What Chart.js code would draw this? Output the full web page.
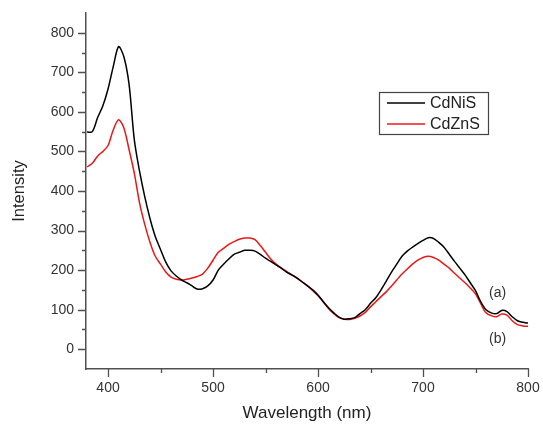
<!DOCTYPE html>
<html>
<head>
<meta charset="utf-8">
<script src="https://cdn.jsdelivr.net/npm/chart.js@4/dist/chart.umd.min.js"></script>
<style>
html,body{margin:0;padding:0;background:#fff;}
#wrap{width:543px;height:427px;position:relative;}
</style>
</head>
<body>
<div id="wrap"><canvas id="c" width="543" height="427"></canvas></div>
<script>
const wavelengths = [];
for (let w = 380; w <= 800; w += 5) wavelengths.push(w);

const cdnis = [549,550,585,615,658,715,765,740,670,530,450,385,330,285,252,220,198,185,175,168,160,152,153,160,175,200,215,228,240,245,250,250,248,240,230,222,213,205,195,188,180,170,160,150,137,120,105,92,81,76,77,80,90,100,116,130,150,172,195,215,235,248,258,267,275,282,280,270,258,240,222,205,188,168,148,120,100,92,90,98,95,82,72,68,66];
const cdzns = [461,470,488,500,515,555,580,560,505,445,370,315,270,235,215,195,182,177,175,177,180,184,190,205,225,245,255,265,272,278,281,281,277,262,245,228,215,205,197,188,180,170,160,148,135,120,103,90,80,76,75,78,84,93,107,120,133,145,160,175,190,203,215,225,232,235,232,225,215,205,192,180,168,155,140,115,92,85,82,89,86,72,62,59,58];

const seriesNames = ['CdNiS', 'CdZnS'];
const xTicks = [400, 500, 600, 700, 800];
const xMinorTicks = [450, 550, 650, 750];
const yTicks = [0, 100, 200, 300, 400, 500, 600, 700, 800];
const yMinorTicks = [50, 150, 250, 350, 450, 550, 650, 750];
const notes = [{text:'(a)', x:771, y:142}, {text:'(b)', x:771, y:25}];

const FONT = "'Liberation Sans', Arial, sans-serif";
const AXIS = '#505050';
const TXT = '#333333';
const RED = 'rgb(232,24,24)';

const tickPlugin = {
  id: 'ticksAndExtras',
  afterDraw(chart) {
    const ctx = chart.ctx;
    const xs = chart.scales.x, ys = chart.scales.y;
    const ca = chart.chartArea;
    ctx.save();
    ctx.strokeStyle = AXIS;
    ctx.lineWidth = 1.3;
    ctx.beginPath();
    xTicks.forEach(v => { const p = Math.round(xs.getPixelForValue(v)) + 0.5; ctx.moveTo(p, ca.bottom); ctx.lineTo(p, ca.bottom + 8); });
    xMinorTicks.forEach(v => { const p = Math.round(xs.getPixelForValue(v)) + 0.5; ctx.moveTo(p, ca.bottom); ctx.lineTo(p, ca.bottom + 4); });
    yTicks.forEach(v => { const p = Math.round(ys.getPixelForValue(v)) + 0.5; ctx.moveTo(ca.left, p); ctx.lineTo(ca.left - 8, p); });
    yMinorTicks.forEach(v => { const p = Math.round(ys.getPixelForValue(v)) + 0.5; ctx.moveTo(ca.left, p); ctx.lineTo(ca.left - 4, p); });
    ctx.stroke();

    // legend box
    const lx = 379, ly = 92, lw = 109, lh = 42;
    ctx.strokeStyle = '#444';
    ctx.lineWidth = 1.2;
    ctx.strokeRect(lx + 0.5, ly + 0.5, lw, lh);
    ctx.font = '16px ' + FONT;
    ctx.textBaseline = 'middle';
    ctx.textAlign = 'left';
    chart.data.datasets.forEach((ds, i) => {
      const yy = ly + 11 + i * 21;
      ctx.strokeStyle = ds.borderColor;
      ctx.lineWidth = 1.3;
      ctx.beginPath();
      ctx.moveTo(387, yy); ctx.lineTo(425, yy);
      ctx.stroke();
      ctx.fillStyle = '#222';
      ctx.fillText(ds.label, 430, yy + 1);
    });

    // annotations
    ctx.font = '14px ' + FONT;
    ctx.textAlign = 'center';
    ctx.fillStyle = TXT;
    notes.forEach(n => ctx.fillText(n.text, xs.getPixelForValue(n.x), ys.getPixelForValue(n.y)));
    ctx.restore();
  }
};

new Chart(document.getElementById('c'), {
  type: 'line',
  data: {
    datasets: [
      { label: seriesNames[0], data: wavelengths.map((w, i) => ({x: w, y: cdnis[i]})), borderColor: '#000000', borderWidth: 1.5, pointRadius: 0, tension: 0.3, fill: false },
      { label: seriesNames[1], data: wavelengths.map((w, i) => ({x: w, y: cdzns[i]})), borderColor: RED, borderWidth: 1.5, pointRadius: 0, tension: 0.3, fill: false }
    ]
  },
  options: {
    responsive: false,
    animation: false,
    devicePixelRatio: 1,
    layout: { padding: { left: 0, top: 13, right: 15, bottom: 0 } },
    plugins: { legend: { display: false }, tooltip: { enabled: false } },
    scales: {
      x: {
        type: 'linear', min: 379, max: 800,
        afterFit: s => { s.height = 58; s.paddingLeft = 0; s.paddingRight = 0; },
        afterBuildTicks: s => { s.ticks = xTicks.map(v => ({value: v})); },
        grid: { display: true, drawOnChartArea: false, drawTicks: false },
        border: { display: true, color: AXIS, width: 1.5 },
        ticks: { color: TXT, font: { family: FONT, size: 14 }, padding: 11, maxRotation: 0, autoSkip: false },
        title: { display: true, text: 'Wavelength (nm)', color: '#222', font: { family: FONT, size: 17 }, padding: { top: 0, bottom: 3 } }
      },
      y: {
        type: 'linear', min: -50, max: 850,
        afterFit: s => { s.width = 86; s.paddingTop = 0; s.paddingBottom = 0; },
        afterBuildTicks: s => { s.ticks = yTicks.map(v => ({value: v})); },
        grid: { display: true, drawOnChartArea: false, drawTicks: false },
        border: { display: true, color: AXIS, width: 1.5 },
        ticks: { color: TXT, font: { family: FONT, size: 14 }, padding: 12 },
        title: { display: true, text: 'Intensity', color: '#222', font: { family: FONT, size: 16.5 }, padding: { top: 10, bottom: 0 } }
      }
    }
  },
  plugins: [tickPlugin]
});
</script>
</body>
</html>
